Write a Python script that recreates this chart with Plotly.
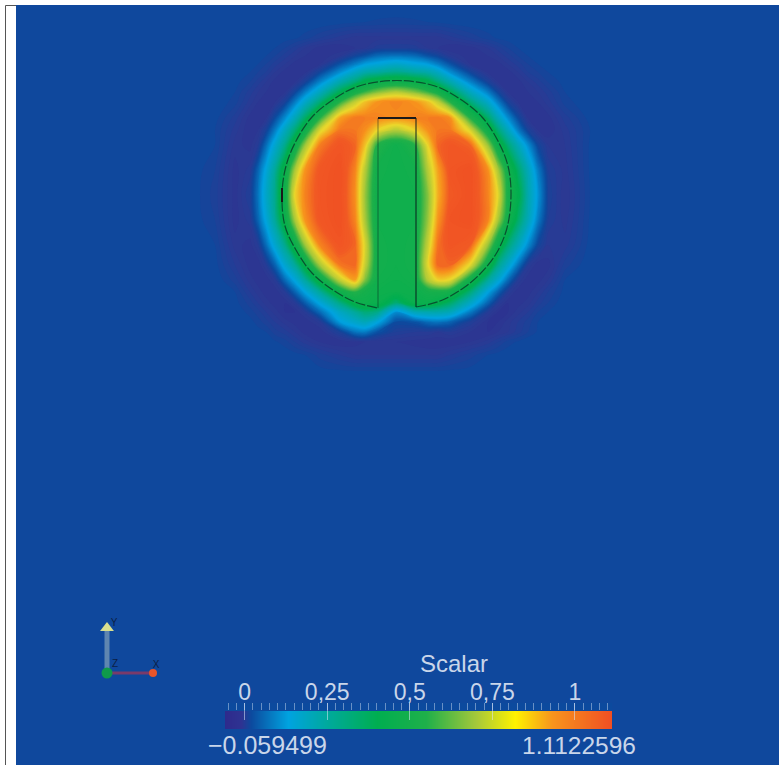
import plotly.graph_objects as go

W, H = 779, 765
X_NODES = [16,190,215,235,250,258,266,275,285,295,305,320,340,355,365,377,396,415,428,438,450,470,488,498,508,518,528,538,548,565,590,620,779]
Y_NODES = [5,22,38,48,56,64,72,82,92,102,118,130,145,170,195,220,245,265,280,292,303,312,322,332,342,355,375,400,765]
B = .02
SCALAR = [
[B]*33,
[B,B,B,B,B,B,B,B,B,B,B,B,.015,.012,.01,.008,.006,.008,.01,.012,.015,B,B,B,B,B,B,B,B,B,B,B,B],
[B,B,B,B,B,B,B,.018,.015,.012,.005,-.01,-.025,-.035,-.035,-.035,-.035,-.035,-.035,-.035,-.025,-.01,.005,.012,.015,.018,B,B,B,B,B,B,B],
[B,B,B,B,B,B,.015,.01,0,-.015,-.03,-.045,-.05,-.04,-.03,-.015,-.01,-.015,-.03,-.04,-.05,-.045,-.03,-.015,0,.01,.015,B,B,B,B,B,B],
[B,B,B,B,B,.015,.01,0,-.015,-.03,-.04,-.05,-.03,.01,.03,.06,.07,.06,.03,.01,-.025,-.05,-.04,-.03,-.015,0,.01,.015,B,B,B,B,B],
[B,B,B,B,.015,.01,0,-.015,-.03,-.045,-.05,-.04,.03,.08,.12,.14,.17,.14,.12,.08,.03,-.04,-.05,-.045,-.03,-.015,0,.01,.015,B,B,B,B],
[B,B,B,B,.01,0,-.01,-.03,-.045,-.05,-.045,.01,.1,.18,.22,.24,.27,.24,.22,.18,.1,.01,-.045,-.05,-.045,-.03,-.01,0,.01,B,B,B,B],
[B,B,B,.015,0,-.015,-.03,-.045,-.05,-.04,0,.09,.22,.3,.38,.42,.45,.42,.38,.3,.22,.09,0,-.04,-.05,-.045,-.03,-.015,0,.015,B,B,B],
[B,B,B,.01,-.015,-.03,-.04,-.05,-.04,.01,.08,.19,.35,.49,.57,.65,.72,.65,.57,.49,.35,.19,.08,.01,-.04,-.05,-.04,-.03,-.015,.01,B,B,B],
[B,B,B,.005,-.025,-.04,-.05,-.04,0,.08,.17,.3,.55,.74,.85,.92,.95,.92,.85,.74,.55,.3,.17,.08,0,-.04,-.05,-.04,-.025,.005,B,B,B],
[B,B,.015,-.015,-.045,-.05,-.04,.02,.1,.2,.32,.55,.9,.97,.96,.95,.93,.95,.96,.97,.93,.55,.32,.2,.1,.02,-.04,-.05,-.045,-.015,.015,B,B],
[B,B,.01,-.025,-.05,-.04,0,.08,.19,.3,.45,.78,.97,.97,.93,.82,.72,.82,.93,.97,.97,.78,.45,.3,.19,.08,0,-.04,-.05,-.025,.01,B,B],
[B,B,.01,-.035,-.045,-.02,.06,.16,.27,.44,.68,.96,1.05,1.0,.85,.55,.45,.55,.82,1.0,1.04,1.0,.68,.44,.3,.2,.1,.01,-.03,-.03,.012,B,B],
[B,B,0,-.045,-.025,.05,.14,.25,.42,.7,.92,1.04,1.08,.95,.72,.47,.45,.47,.72,.9,1.05,1.08,.93,.7,.47,.32,.2,.08,-.01,-.035,.012,B,B],
[B,B,-.005,-.045,-.01,.07,.17,.27,.47,.82,.95,1.05,1.08,.93,.68,.46,.45,.46,.66,.88,1.03,1.08,.95,.8,.5,.38,.22,.11,0,-.04,.01,B,B],
[B,B,0,-.045,-.025,.05,.14,.25,.42,.7,.92,1.04,1.08,.95,.7,.46,.45,.46,.68,.92,1.06,1.08,.95,.7,.47,.32,.2,.08,-.01,-.035,.012,B,B],
[B,B,.01,-.035,-.045,-.02,.06,.16,.27,.44,.68,.95,1.05,1.0,.78,.47,.45,.47,.75,.98,1.05,1.02,.68,.44,.3,.2,.1,.01,-.03,-.025,.015,B,B],
[B,B,.015,-.02,-.045,-.05,-.02,.05,.16,.25,.4,.7,.97,1.0,.75,.47,.45,.47,.8,1.0,1.0,.8,.44,.27,.17,.07,-.02,-.05,-.045,-.005,B,B,B],
[B,B,B,-.005,-.035,-.045,-.05,-.025,.06,.14,.24,.42,.74,.9,.65,.46,.44,.46,.72,.82,.8,.47,.25,.16,.06,-.02,-.05,-.045,-.03,.01,B,B,B],
[B,B,B,.01,-.02,-.035,-.045,-.05,-.02,.05,.13,.25,.45,.55,.48,.44,.43,.44,.48,.5,.48,.3,.13,.05,-.02,-.05,-.045,-.03,-.01,.015,B,B,B],
[B,B,B,.015,-.005,-.02,-.035,-.045,-.05,-.025,.04,.14,.28,.4,.44,.42,.3,.42,.42,.38,.32,.18,.05,-.02,-.05,-.045,-.035,-.015,0,B,B,B,B],
[B,B,B,B,.005,-.005,-.02,-.035,-.05,-.05,-.025,.06,.18,.25,.3,.28,.1,.2,.22,.22,.2,.08,-.02,-.05,-.05,-.035,-.02,0,.01,B,B,B,B],
[B,B,B,B,.015,.005,-.005,-.02,-.035,-.045,-.05,-.025,.12,.17,.2,.14,.02,.03,.06,.07,.05,-.01,-.05,-.05,-.035,-.02,-.005,.01,.018,B,B,B,B],
[B,B,B,B,B,.015,.01,-.005,-.015,-.03,-.045,-.05,0,.07,.08,.03,-.01,-.02,-.02,-.03,-.02,-.04,-.05,-.04,-.03,-.015,0,.012,B,B,B,B,B],
[B,B,B,B,B,B,B,.012,.005,-.01,-.025,-.04,-.05,-.045,-.04,-.04,-.04,-.045,-.05,-.05,-.05,-.04,-.025,-.01,.005,.012,B,B,B,B,B,B,B],
[B,B,B,B,B,B,B,B,.018,.015,.01,-.005,-.02,-.03,-.03,-.03,-.03,-.03,-.03,-.03,-.02,-.005,.01,.015,.018,B,B,B,B,B,B,B,B],
[B]*33,
[B]*33,
[B]*33,
]

VAL_MIN, VAL_MAX = -0.059499, 1.1122596
STOP_VALUES = [-0.059499, -0.012, 0.02, 0.13, 0.25, 0.40, 0.55, 0.70, 0.82, 0.93, 1.1122596]
BAR_COLORS = ["#2e2a8c", "#2e3392", "#0c4a9e", "#00a3e0", "#00a99d", "#00ae50", "#1fb04a", "#a5c83a", "#fff200", "#f7941d", "#f04e23"]
FIELD_STOPS = [-0.059499, -0.03, 0.0, 0.02, 0.13, 0.25, 0.36, 0.55, 0.70, 0.82, 0.93, 1.03, 1.1122596]
FIELD_COLORS = ["#2c3290", "#2b3a94", "#1a4299", "#0c4a9e", "#00a3e0", "#00a99d", "#00ae50", "#1fb04a", "#a5c83a", "#ecd82c", "#f7941d", "#f15a24", "#f04e23"]


def scale(values, colors):
    return [[(v - VAL_MIN) / (VAL_MAX - VAL_MIN), c] for v, c in zip(values, colors)]


CBAR_VALUES = [-0.059499, -0.012, 0.02, 0.13, 0.25, 0.40, 0.55, 0.70, 0.82, 0.93, 1.1122596]
CBAR_ROWS = [0, 9, 18]
TICK_VALUES = [0, 0.25, 0.5, 0.75, 1]
TICK_LABELS = ["0", "0,25", "0,5", "0,75", "1"]

ARC_X = [416,440,462,480,496,507,511,508,498,482,460,435,397,359,334,312,296,286,282,285,296,312,333,355,378]
ARC_Y = [307,301,289,274,254,228,195,166,141,117,99,86,80.5,86,99,117,141,166,195,226,250,273,290,302,308]
SLOT_LEFT_X = [378, 378]
SLOT_LEFT_Y = [308, 118]
SLOT_TOP_X = [378, 416]
SLOT_TOP_Y = [118, 118]
SLOT_RIGHT_X = [416, 416]
SLOT_RIGHT_Y = [118, 307]
LEFT_MARK_X = [282, 282]
LEFT_MARK_Y = [188, 202]

TRIAD_ORIGIN = [107, 673]
TRIAD_Y_TIP = [107, 630]
TRIAD_X_TIP = [155, 673]

TEXT = "#c9d6ea"
FONT = "Liberation Sans"

fig = go.Figure()
fig.add_trace(go.Contour(x=X_NODES, y=Y_NODES, z=SCALAR, zmin=VAL_MIN, zmax=VAL_MAX,
                         colorscale=scale(FIELD_STOPS, FIELD_COLORS), showscale=False, hoverinfo="skip",
                         autocontour=False, contours=dict(coloring="fill", start=-0.06, end=1.11, size=0.01, showlines=False),
                         line=dict(width=0, smoothing=1.0)))
ink = "rgba(10,30,30,%s)"
fig.add_trace(go.Scatter(x=ARC_X, y=ARC_Y, mode="lines", line=dict(color=ink % 0.65, width=1.2, shape="spline", dash="10px,2px"), hoverinfo="skip"))
fig.add_trace(go.Scatter(x=SLOT_LEFT_X, y=SLOT_LEFT_Y, mode="lines", line=dict(color=ink % 0.4, width=1.2), hoverinfo="skip"))
fig.add_trace(go.Scatter(x=SLOT_RIGHT_X, y=SLOT_RIGHT_Y, mode="lines", line=dict(color=ink % 0.7, width=1.4), hoverinfo="skip"))
fig.add_trace(go.Scatter(x=SLOT_TOP_X, y=SLOT_TOP_Y, mode="lines", line=dict(color="#1a1a1a", width=2), hoverinfo="skip"))
fig.add_trace(go.Scatter(x=LEFT_MARK_X, y=LEFT_MARK_Y, mode="lines", line=dict(color="#1a1a1a", width=2), hoverinfo="skip"))
# orientation triad
fig.add_trace(go.Scatter(x=[TRIAD_ORIGIN[0], TRIAD_Y_TIP[0]], y=[TRIAD_ORIGIN[1], TRIAD_Y_TIP[1]], mode="lines",
                         line=dict(color="#5f86b0", width=5), hoverinfo="skip"))
fig.add_trace(go.Scatter(x=[TRIAD_ORIGIN[0], TRIAD_X_TIP[0]], y=[TRIAD_ORIGIN[1], TRIAD_X_TIP[1]], mode="lines",
                         line=dict(color="#7a3a6a", width=3), hoverinfo="skip"))
fig.add_trace(go.Scatter(x=[TRIAD_Y_TIP[0]], y=[TRIAD_Y_TIP[1] - 2], mode="markers",
                         marker=dict(symbol="triangle-up", size=12, color="#d9df8f"), hoverinfo="skip"))
fig.add_trace(go.Scatter(x=[TRIAD_X_TIP[0] - 2], y=[TRIAD_X_TIP[1]], mode="markers",
                         marker=dict(symbol="circle", size=8, color="#e8552a"), hoverinfo="skip"))
fig.add_trace(go.Scatter(x=[TRIAD_ORIGIN[0]], y=[TRIAD_ORIGIN[1]], mode="markers",
                         marker=dict(size=11, color="#0f9a4a"), hoverinfo="skip"))
fig.add_trace(go.Scatter(x=[114, 115, 156], y=[623, 664, 665], text=["Y", "Z", "X"], mode="text",
                         textfont=dict(family=FONT, size=10, color="#0c1f45"), hoverinfo="skip"))
# scalar bar
fig.add_trace(go.Heatmap(x=CBAR_VALUES, y=CBAR_ROWS, z=[CBAR_VALUES, CBAR_VALUES], zmin=VAL_MIN, zmax=VAL_MAX,
                         colorscale=scale(STOP_VALUES, BAR_COLORS), zsmooth="best", showscale=False, hoverinfo="skip",
                         xaxis="x2", yaxis="y2"))


def px_x(p):
    return p / W


def px_y(p):
    return 1 - p / H


fig.update_layout(
    width=W, height=H, margin=dict(l=0, r=0, t=0, b=0), paper_bgcolor="white", plot_bgcolor="#0c4a9e",
    showlegend=False,
    font=dict(family=FONT, color=TEXT),
    xaxis=dict(domain=[px_x(16), 1], range=[16, 779], visible=False, fixedrange=True),
    yaxis=dict(domain=[0, px_y(5)], range=[765, 5], visible=False, fixedrange=True),
    xaxis2=dict(domain=[px_x(225), px_x(612)], range=[VAL_MIN, VAL_MAX], anchor="y2", side="top",
                tickvals=TICK_VALUES, ticktext=TICK_LABELS, ticks="inside", ticklen=17, tickwidth=1,
                tickcolor="rgba(220,230,245,0.55)", tickfont=dict(family=FONT, size=23, color=TEXT),
                minor=dict(ticks="inside", ticklen=7, tickwidth=1, tick0=0, dtick=0.025, tickcolor="rgba(220,230,245,0.45)"),
                showgrid=False, zeroline=False, showline=False, fixedrange=True, ticklabelstandoff=-3),
    yaxis2=dict(domain=[px_y(729), px_y(703)], range=[0, 26], anchor="x2", visible=False, fixedrange=True),
    shapes=[dict(type="path", xref="paper", yref="paper",
                 path=f"M {px_x(5.5)} 0 L {px_x(5.5)} {px_y(5.5)} L {px_x(16)} {px_y(5.5)}",
                 line=dict(color="#555555", width=1))],
    annotations=[
        dict(text="Scalar", x=px_x(454), y=px_y(663), xref="paper", yref="paper", showarrow=False,
             font=dict(family=FONT, size=24, color=TEXT), xanchor="center", yanchor="middle"),
        dict(text="\u22120.059499", x=px_x(267), y=px_y(745), xref="paper", yref="paper", showarrow=False,
             font=dict(family=FONT, size=25, color=TEXT), xanchor="center", yanchor="middle"),
        dict(text="1.1122596", x=px_x(579), y=px_y(745), xref="paper", yref="paper", showarrow=False,
             font=dict(family=FONT, size=24.5, color=TEXT), xanchor="center", yanchor="middle"),
    ],
)
fig.write_html("out.html", config=dict(displayModeBar=False), post_script="document.body.style.margin='0';")
